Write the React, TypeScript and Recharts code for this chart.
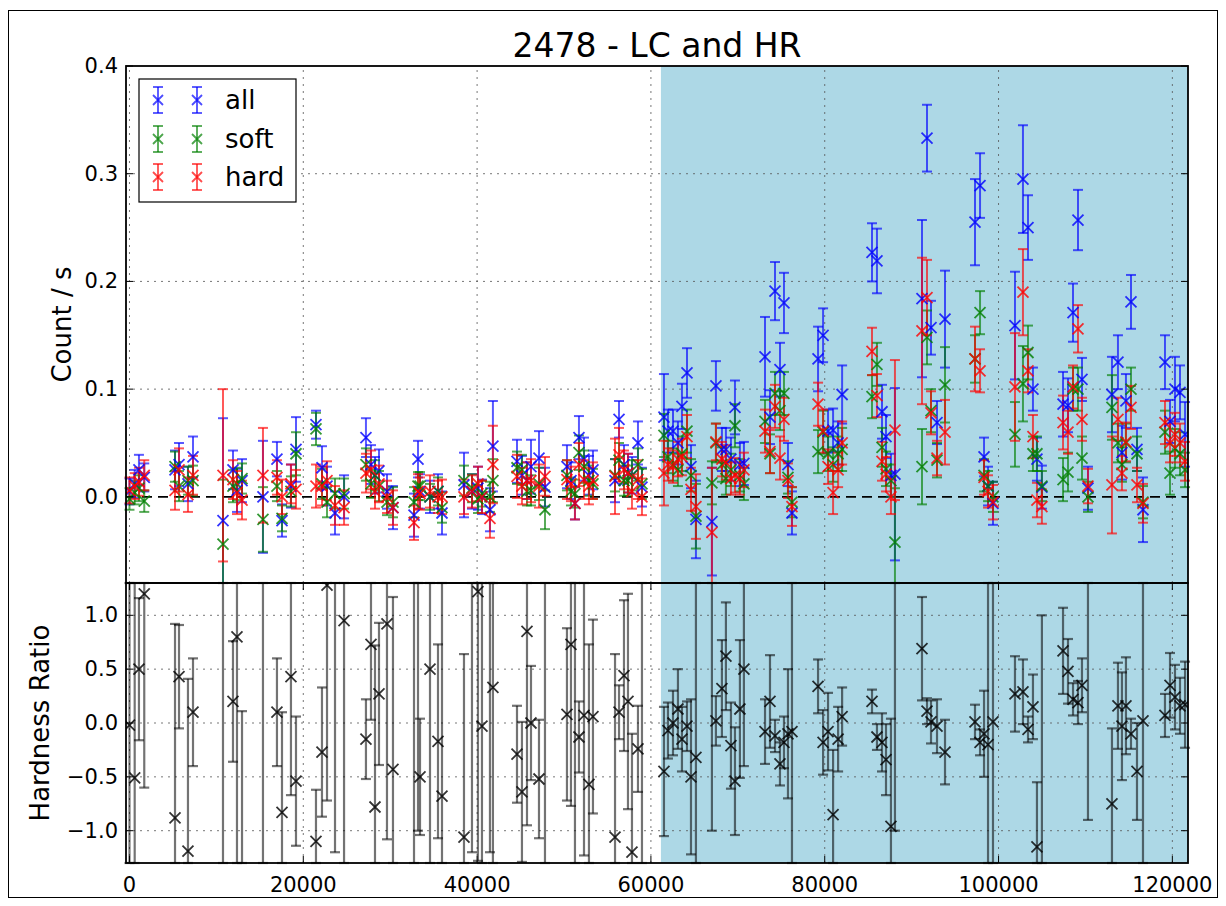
import { ScatterChart, Scatter, ErrorBar, XAxis, YAxis, ReferenceArea, ReferenceLine } from "recharts"

// bin start times (s)
const TIME = [
  0, 600, 1090, 1700,
  5240, 5700, 6730, 7310,
  10760, 11910, 12370, 12950,
  15360, 16970, 17550, 18580, 19160,
  21460, 22150, 22730, 23650, 24690,
  27210, 27790, 28250, 28710, 29630, 30320,
  32740, 33200, 33430, 34580, 35500, 35960,
  38490, 39410, 40100, 40560, 41480, 41820,
  44590, 45160, 45740, 46200, 47120, 47810,
  50340, 50800, 51260, 51720, 52300, 52870, 53330,
  55870, 56330, 56900, 57360, 57820, 58510, 58970,
  61500, 61960, 62540, 63110, 63570, 64150, 64610, 65180,
  67020, 67480, 68170, 68630, 69210, 69670, 70240, 70700,
  73130, 73700, 74280, 74850, 75310, 75770, 76230,
  79230, 79810, 80380, 80960, 81540, 82000,
  85440, 86010, 86590, 87050, 87620, 88080,
  91190, 91770, 92230, 92920, 93840,
  97290, 97870, 98330, 98790, 99360,
  101890, 102810, 103390, 103960, 104420, 104990,
  107420, 107990, 108570, 109140, 109600, 110290,
  113050, 113740, 114200, 114660, 115240, 115930, 116620,
  119150, 119730, 120300, 120880, 121460,
]

const ALL = [
  0.005, 0.012, 0.025, 0.018,
  0.025, 0.03, 0.012, 0.037,
  -0.022, 0.025, 0.006, 0.015,
  0.0, 0.035, -0.022, 0.01, 0.044,
  0.067, 0.027, 0.01, -0.015, 0.0,
  0.055, 0.03, 0.02, 0.024, 0.005, -0.01,
  -0.017, 0.035, 0.005, 0.0, 0.005, -0.015,
  0.011, 0.005, 0.008, 0.0, -0.012, 0.047,
  0.033, 0.02, 0.015, 0.028, 0.036, 0.009,
  0.028, 0.015, -0.006, 0.055, 0.035, 0.02, 0.025,
  0.015, 0.072, 0.03, 0.022, 0.02, 0.05, 0.009,
  0.074, 0.061, 0.061, 0.05, 0.084, 0.115, 0.028, -0.021,
  -0.023, 0.103, 0.044, 0.044, 0.035, 0.083, 0.03, 0.031,
  0.13, 0.074, 0.191, 0.118, 0.18, 0.03, -0.015,
  0.128, 0.15, 0.061, 0.062, 0.05, 0.095,
  0.227, 0.219, 0.079, 0.056, 0.02, 0.021,
  0.184, 0.333, 0.157, 0.069, 0.165,
  0.255, 0.289, 0.037, 0.01, -0.006,
  0.159, 0.295, 0.25, 0.1, 0.035, 0.009,
  0.086, 0.085, 0.171, 0.257, 0.109, 0.008,
  0.095, 0.125, 0.041, 0.089, 0.181, 0.044, -0.012,
  0.125, 0.07, 0.1, 0.097, 0.058,
]
const ALL_ERR = [
  0.012, 0.013, 0.014, 0.013,
  0.018, 0.02, 0.016, 0.019,
  0.095, 0.018, 0.02, 0.02,
  0.052, 0.016, 0.015, 0.02, 0.03,
  0.013, 0.02, 0.018, 0.02, 0.02,
  0.018, 0.018, 0.017, 0.02, 0.016, 0.02,
  0.02, 0.017, 0.016, 0.015, 0.016, 0.02,
  0.03, 0.016, 0.02, 0.016, 0.02, 0.042,
  0.02, 0.018, 0.017, 0.025, 0.025, 0.018,
  0.02, 0.017, 0.015, 0.02, 0.02, 0.018, 0.018,
  0.02, 0.017, 0.018, 0.018, 0.017, 0.02, 0.018,
  0.04, 0.02, 0.02, 0.02, 0.021, 0.023, 0.02, 0.036,
  0.05, 0.023, 0.02, 0.02, 0.02, 0.025, 0.02, 0.02,
  0.037, 0.025, 0.027, 0.025, 0.028, 0.02, 0.02,
  0.03, 0.025, 0.02, 0.02, 0.02, 0.027,
  0.027, 0.03, 0.025, 0.02, 0.02, 0.08,
  0.073, 0.031, 0.025, 0.02, 0.045,
  0.04, 0.03, 0.018, 0.018, 0.02,
  0.05, 0.05, 0.03, 0.02, 0.02, 0.02,
  0.03, 0.025, 0.027, 0.028, 0.02, 0.02,
  0.035, 0.025, 0.025, 0.025, 0.025, 0.02, 0.03,
  0.025, 0.02, 0.03, 0.025, 0.03,
]

const SOFT = [
  -0.002, 0.004, 0.008, -0.004,
  0.028, 0.01, 0.015, 0.015,
  -0.044, 0.01, 0.012, 0.017,
  -0.021, 0.01, -0.02, 0.005, 0.04,
  0.063, 0.012, -0.005, 0.003, 0.003,
  0.03, 0.012, 0.02, 0.01, -0.005, -0.005,
  -0.005, 0.01, 0.01, 0.0, 0.005, -0.01,
  0.015, 0.008, -0.002, 0.003, 0.0, 0.015,
  0.027, 0.025, 0.005, 0.006, 0.012, -0.012,
  0.02, 0.005, 0.003, 0.041, 0.028, 0.015, 0.012,
  0.02, 0.034, 0.015, 0.015, 0.02, 0.03, 0.012,
  0.057, 0.037, 0.03, 0.025, 0.04, 0.061, 0.02, -0.018,
  0.013, 0.05, 0.03, 0.017, 0.025, 0.066, 0.02, 0.012,
  0.07, 0.04, 0.096, 0.08, 0.096, 0.018, -0.005,
  0.042, 0.06, 0.04, 0.03, 0.04, 0.044,
  0.093, 0.123, 0.046, 0.026, 0.015, -0.042,
  0.028, 0.148, 0.08, 0.034, 0.104,
  0.128, 0.171, 0.02, 0.01, 0.0,
  0.058, 0.105, 0.134, 0.04, 0.04, 0.01,
  0.016, 0.023, 0.1, 0.1, 0.036, 0.0,
  0.083, 0.05, 0.03, 0.05, 0.1, 0.04, -0.005,
  0.06, 0.022, 0.045, 0.04, 0.025,
]
const SOFT_ERR = [
  0.01, 0.011, 0.012, 0.01,
  0.014, 0.014, 0.013, 0.014,
  0.06, 0.015, 0.015, 0.014,
  0.03, 0.014, 0.012, 0.014, 0.02,
  0.015, 0.014, 0.014, 0.014, 0.014,
  0.015, 0.013, 0.014, 0.014, 0.012, 0.014,
  0.014, 0.013, 0.013, 0.012, 0.013, 0.014,
  0.014, 0.013, 0.013, 0.012, 0.014, 0.02,
  0.015, 0.014, 0.013, 0.014, 0.015, 0.018,
  0.014, 0.013, 0.013, 0.016, 0.015, 0.014, 0.014,
  0.015, 0.016, 0.014, 0.014, 0.014, 0.015, 0.014,
  0.02, 0.015, 0.015, 0.015, 0.016, 0.02, 0.015, 0.03,
  0.02, 0.018, 0.016, 0.015, 0.015, 0.02, 0.015, 0.015,
  0.02, 0.018, 0.02, 0.018, 0.02, 0.015, 0.014,
  0.02, 0.02, 0.016, 0.016, 0.016, 0.02,
  0.02, 0.02, 0.018, 0.016, 0.015, 0.05,
  0.035, 0.025, 0.02, 0.016, 0.035,
  0.022, 0.02, 0.015, 0.014, 0.014,
  0.03, 0.035, 0.025, 0.016, 0.016, 0.014,
  0.02, 0.018, 0.02, 0.02, 0.02, 0.014,
  0.03, 0.018, 0.016, 0.018, 0.02, 0.016, 0.015,
  0.02, 0.02, 0.018, 0.02, 0.016,
]

const HARD = [
  0.006, 0.01, 0.014, 0.02,
  0.006, 0.025, 0.002, 0.02,
  0.02, 0.016, 0.004, -0.003,
  0.02, 0.018, 0.0, 0.012, 0.007,
  0.01, 0.01, 0.015, -0.008, -0.01,
  0.022, 0.025, 0.005, 0.012, 0.0, -0.01,
  -0.024, 0.005, 0.003, 0.005, 0.0, 0.0,
  0.0, 0.005, 0.012, 0.0, -0.02, 0.03,
  0.019, 0.01, 0.015, 0.015, 0.01, 0.019,
  0.016, 0.012, -0.006, 0.03, 0.016, 0.01, 0.015,
  0.019, 0.039, 0.025, 0.022, 0.005, 0.016, 0.0,
  0.022, 0.03, 0.028, 0.035, 0.037, 0.056, 0.007, -0.009,
  -0.033, 0.051, 0.035, 0.032, 0.017, 0.02, 0.017, 0.025,
  0.061, 0.042, 0.084, 0.036, 0.072, 0.015, -0.009,
  0.086, 0.061, 0.028, 0.004, 0.025, 0.05,
  0.135, 0.094, 0.033, 0.021, 0.0, 0.062,
  0.154, 0.185, 0.078, 0.036, 0.06,
  0.128, 0.117, 0.018, 0.005, -0.005,
  0.102, 0.19, 0.117, 0.056, -0.003, -0.009,
  0.069, 0.06, 0.102, 0.156, 0.072, 0.01,
  0.011, 0.072, 0.022, 0.051, 0.083, 0.011, -0.006,
  0.069, 0.05, 0.058, 0.05, 0.033,
]
const HARD_ERR = [
  0.012, 0.012, 0.013, 0.014,
  0.018, 0.02, 0.016, 0.018,
  0.08, 0.018, 0.02, 0.018,
  0.044, 0.016, 0.016, 0.018, 0.018,
  0.02, 0.018, 0.018, 0.018, 0.016,
  0.018, 0.018, 0.016, 0.017, 0.015, 0.016,
  0.016, 0.016, 0.015, 0.015, 0.015, 0.016,
  0.016, 0.015, 0.016, 0.015, 0.018, 0.036,
  0.02, 0.017, 0.017, 0.02, 0.02, 0.018,
  0.018, 0.016, 0.015, 0.02, 0.018, 0.017, 0.017,
  0.035, 0.025, 0.018, 0.018, 0.016, 0.018, 0.017,
  0.03, 0.015, 0.015, 0.016, 0.017, 0.02, 0.02, 0.03,
  0.06, 0.017, 0.016, 0.016, 0.015, 0.016, 0.015, 0.016,
  0.02, 0.02, 0.02, 0.02, 0.02, 0.016, 0.018,
  0.02, 0.02, 0.016, 0.02, 0.016, 0.02,
  0.022, 0.02, 0.018, 0.016, 0.016, 0.065,
  0.068, 0.035, 0.02, 0.016, 0.03,
  0.03, 0.02, 0.016, 0.015, 0.016,
  0.05, 0.04, 0.02, 0.02, 0.016, 0.016,
  0.025, 0.02, 0.02, 0.022, 0.02, 0.016,
  0.045, 0.02, 0.016, 0.018, 0.02, 0.016, 0.018,
  0.02, 0.018, 0.02, 0.018, 0.018,
]

// hardness ratio (H - S) / (H + S)
const HR = [
  -0.02, -0.51, 0.5, 1.2,
  -0.88, 0.43, -1.19, 0.1,
  1.6, 0.2, 0.8, -1.5,
  1.5, 0.1, -0.83, 0.43, -0.54,
  -1.1, -0.27, 1.28, 1.8, 0.95,
  -0.15, 0.73, -0.78, 0.27, 0.92, -0.43,
  1.6, 2.0, -0.5, 0.5, -0.17, -0.68,
  -1.06, 1.8, 1.22, -0.03, 1.8, 0.33,
  -0.29, -0.64, 0.85, 0.0, -0.52, 1.7,
  0.08, 0.73, 1.6, -0.13, 0.07, -0.57, 0.06,
  -1.06, 0.1, 0.44, 0.2, -1.2, -0.24, 1.6,
  -0.45, -0.07, 0.0, 0.13, -0.15, -0.03, -0.5, -0.32,
  2.0, 0.02, 0.32, 0.62, -0.21, -0.54, 0.13, 0.5,
  -0.08, 0.2, -0.12, -0.38, -0.18, -0.1, -0.08,
  0.34, -0.18, -0.08, -0.85, -0.15, 0.06,
  0.2, -0.13, -0.18, -0.34, -0.96, 2.0,
  0.69, 0.11, 0.01, -0.03, -0.27,
  0.01, -0.18, -0.1, -0.2, 0.01,
  0.27, 0.29, -0.06, 0.15, -1.15, -2.0,
  0.67, 0.48, 0.22, 0.19, 0.35, 1.5,
  -0.75, 0.16, -0.03, 0.16, -0.1, -0.45, 0.02,
  0.07, 0.35, 0.24, 0.16, 0.17,
]
const HR_ERR = [
  2.5, 2.2, 0.66, 1.8,
  1.8, 0.48, 1.6, 0.5,
  3, 0.56, 3, 1.61,
  3, 0.5, 0.93, 1.1, 0.6,
  0.48, 0.6, 2, 3, 2.5,
  0.37, 0.7, 1.5, 0.66, 2, 1.6,
  3, 3, 0.54, 3, 0.9, 2,
  1.7, 3, 2.5, 2.5, 3, 1.8,
  0.45, 0.65, 1.8, 0.53, 0.55, 3,
  0.8, 1.5, 3, 0.33, 1.3, 1.3, 0.9,
  1.7, 0.25, 0.7, 1.0, 1.1, 0.4, 3,
  0.6, 0.26, 0.3, 0.37, 0.3, 0.23, 0.72, 3,
  3, 0.23, 0.45, 0.5, 0.4, 0.5, 0.64, 0.9,
  0.3, 0.43, 0.15, 0.2, 0.24, 0.6, 3,
  0.25, 0.3, 0.36, 0.6, 0.3, 0.27,
  0.11, 0.12, 0.27, 0.33, 1.0, 3,
  0.48, 0.12, 0.2, 0.25, 0.3,
  0.16, 0.12, 0.4, 1.5, 2.5,
  0.35, 0.3, 0.12, 0.3, 0.6, 3,
  0.4, 0.3, 0.15, 0.2, 0.25, 2.4,
  0.7, 0.4, 0.5, 0.45, 0.14, 0.45, 2.2,
  0.2, 0.3, 0.3, 0.26, 0.4,
]

const X_TICKS = [0, 20000, 40000, 60000, 80000, 100000, 120000]
const LC_TICKS = [0, 0.1, 0.2, 0.3, 0.4]
const HR_TICKS = [-1, -0.5, 0, 0.5, 1]
const FLARE_START = 61150

const X_DOMAIN: [number, number] = [-400, 121800]
const LC_DOMAIN: [number, number] = [-0.08, 0.4]
const HR_DOMAIN: [number, number] = [-1.3, 1.3]

// page layout (px)
const W = 1226
const H = 906
const LEFT = 126
const RIGHT = 1188
const LC_TOP = 66
const SPLIT = 583
const HR_BOTTOM = 863
const TICK_LEN = 7
const FONT = "DejaVu Sans, sans-serif"
const SHADE = "#add8e6"

const SERIES = [
  { name: "all", color: "#0000ff", vals: ALL, errs: ALL_ERR },
  { name: "soft", color: "#008000", vals: SOFT, errs: SOFT_ERR },
  { name: "hard", color: "#ff0000", vals: HARD, errs: HARD_ERR },
]

// ErrorBar ignores the axis clip, so bars are cut at the panel edges here
// and handed over as [below, above] lengths
const points = (vals: number[], errs: number[], [lo, hi]: [number, number]) =>
  TIME.map((x, i) => {
    const y = vals[i]
    let a = Math.max(y - errs[i], lo)
    let b = Math.min(y + errs[i], hi)
    if (a > b) a = b = y > hi ? hi : lo
    return { x, y, err: [y - a, b - y] }
  })

const hrPoints = points(HR, HR_ERR, HR_DOMAIN)

const fmtMinus = (v: number, digits: number) => {
  const s = Math.abs(v).toFixed(digits)
  return v < 0 ? "\u2212" + s : s
}

function cross(color: string, opacity: number) {
  return (p: any) => {
    const { cx, cy } = p
    if (cx == null || cy == null) return <g />
    const s = 5.5
    return (
      <path
        d={`M${cx - s},${cy - s}L${cx + s},${cy + s}M${cx - s},${cy + s}L${cx + s},${cy - s}`}
        stroke={color}
        strokeOpacity={opacity}
        strokeWidth={1.8}
        fill="none"
      />
    )
  }
}

const gridStyle = { stroke: "#555", strokeWidth: 1, strokeDasharray: "2 5", strokeOpacity: 0.8 }

// x ticks point inward on both the top and bottom edge of a panel
const xTickInner = (top: number, bottom: number, withLabel: boolean) => (p: any) => (
  <g>
    <line x1={p.x} x2={p.x} y1={top} y2={top + TICK_LEN} stroke="#000" />
    <line x1={p.x} x2={p.x} y1={bottom - TICK_LEN} y2={bottom} stroke="#000" />
    {withLabel && (
      <text x={p.x} y={885} textAnchor="middle" dominantBaseline="central" fontFamily={FONT} fontSize={21} fill="#000">
        {p.payload.value}
      </text>
    )}
  </g>
)

const yTickInner = (p: any) => (
  <g>
    <line x1={LEFT} x2={LEFT + TICK_LEN} y1={p.y} y2={p.y} stroke="#000" />
    <line x1={RIGHT - TICK_LEN} x2={RIGHT} y1={p.y} y2={p.y} stroke="#000" />
    <text x={118} y={p.y} textAnchor="end" dominantBaseline="central" fontFamily={FONT} fontSize={21} fill="#000">
      {fmtMinus(p.payload.value, 1)}
    </text>
  </g>
)

function LegendBox() {
  const rows = [100, 139, 177]
  return (
    <g>
      <rect x={139} y={79} width={157} height={123} fill="#fff" stroke="#000" strokeWidth={1.2} />
      {SERIES.map((s, i) => (
        <g key={s.name}>
          {[158, 197].map((mx) => (
            <g key={mx} stroke={s.color} strokeOpacity={0.7} strokeWidth={1.8} fill="none">
              <line x1={mx} x2={mx} y1={rows[i] - 13} y2={rows[i] + 13} />
              <line x1={mx - 5} x2={mx + 5} y1={rows[i] - 13} y2={rows[i] - 13} />
              <line x1={mx - 5} x2={mx + 5} y1={rows[i] + 13} y2={rows[i] + 13} />
              <path d={`M${mx - 5},${rows[i] - 5}L${mx + 5},${rows[i] + 5}M${mx - 5},${rows[i] + 5}L${mx + 5},${rows[i] - 5}`} />
            </g>
          ))}
          <text x={225} y={rows[i]} dominantBaseline="central" fontFamily={FONT} fontSize={26} fill="#000">
            {s.name}
          </text>
        </g>
      ))}
    </g>
  )
}

export default function App() {
  return (
    <div style={{ position: "absolute", left: 0, top: 0, width: W, height: H, background: "#fff", overflow: "hidden" }}>
      {/* light curve */}
      <div style={{ position: "absolute", left: 0, top: 0 }}>
        <ScatterChart width={W} height={H} margin={{ top: LC_TOP, right: W - RIGHT, bottom: H - SPLIT, left: 0 }}>
          <XAxis
            type="number"
            dataKey="x"
            domain={X_DOMAIN}
            allowDataOverflow
            ticks={X_TICKS}
            interval={0}
            height={0}
            axisLine={false}
            tickLine={false}
            tick={xTickInner(LC_TOP, SPLIT, false)}
          />
          <YAxis
            type="number"
            dataKey="y"
            domain={LC_DOMAIN}
            allowDataOverflow
            ticks={LC_TICKS}
            interval={0}
            width={LEFT}
            axisLine={false}
            tickLine={false}
            tick={yTickInner}
          />
          <ReferenceArea x1={FLARE_START} x2={X_DOMAIN[1]} fill={SHADE} fillOpacity={1} stroke="none" ifOverflow="hidden" />
          {X_TICKS.map((v) => (
            <ReferenceLine key={`lx${v}`} x={v} {...gridStyle} />
          ))}
          {[0.1, 0.2, 0.3].map((v) => (
            <ReferenceLine key={`ly${v}`} y={v} {...gridStyle} />
          ))}
          <ReferenceLine y={0} stroke="#000" strokeWidth={1.8} strokeDasharray="10 6" />
          {SERIES.map((s) => (
            <Scatter
              key={s.name}
              name={s.name}
              data={points(s.vals, s.errs, LC_DOMAIN)}
              isAnimationActive={false}
              shape={cross(s.color, 0.8)}
            >
              <ErrorBar dataKey="err" direction="y" width={5} stroke={s.color} strokeWidth={2} strokeOpacity={0.65} isAnimationActive={false} />
            </Scatter>
          ))}
        </ScatterChart>
      </div>

      {/* hardness ratio */}
      <div style={{ position: "absolute", left: 0, top: 0 }}>
        <ScatterChart width={W} height={H} margin={{ top: SPLIT, right: W - RIGHT, bottom: 3, left: 0 }}>
          <XAxis
            type="number"
            dataKey="x"
            domain={X_DOMAIN}
            allowDataOverflow
            ticks={X_TICKS}
            interval={0}
            height={H - 3 - HR_BOTTOM}
            axisLine={false}
            tickLine={false}
            tick={xTickInner(SPLIT, HR_BOTTOM, true)}
          />
          <YAxis
            type="number"
            dataKey="y"
            domain={HR_DOMAIN}
            allowDataOverflow
            ticks={HR_TICKS}
            interval={0}
            width={LEFT}
            axisLine={false}
            tickLine={false}
            tick={yTickInner}
          />
          <ReferenceArea x1={FLARE_START} x2={X_DOMAIN[1]} fill={SHADE} fillOpacity={1} stroke="none" ifOverflow="hidden" />
          {X_TICKS.map((v) => (
            <ReferenceLine key={`hx${v}`} x={v} {...gridStyle} />
          ))}
          {HR_TICKS.map((v) => (
            <ReferenceLine key={`hy${v}`} y={v} {...gridStyle} />
          ))}
          <Scatter name="HR" data={hrPoints} isAnimationActive={false} shape={cross("#000", 0.8)}>
            <ErrorBar dataKey="err" direction="y" width={5} stroke="#000" strokeWidth={2.2} strokeOpacity={0.55} isAnimationActive={false} />
          </Scatter>
        </ScatterChart>
      </div>

      {/* frames, title, labels and legend */}
      <svg width={W} height={H} style={{ position: "absolute", left: 0, top: 0, pointerEvents: "none" }}>
        <rect x={8.5} y={10.5} width={1209} height={887} fill="none" stroke="#000" strokeWidth={1} />
        <rect x={LEFT} y={LC_TOP} width={RIGHT - LEFT} height={SPLIT - LC_TOP} fill="none" stroke="#000" strokeWidth={1.8} />
        <rect x={LEFT} y={SPLIT} width={RIGHT - LEFT} height={HR_BOTTOM - SPLIT} fill="none" stroke="#000" strokeWidth={1.8} />
        <text x={(LEFT + RIGHT) / 2} y={45} textAnchor="middle" dominantBaseline="central" fontFamily={FONT} fontSize={33} fill="#000">
          2478 - LC and HR
        </text>
        <text
          transform={`translate(62 ${(LC_TOP + SPLIT) / 2}) rotate(-90)`}
          textAnchor="middle"
          dominantBaseline="central"
          fontFamily={FONT}
          fontSize={26}
          fill="#000"
        >
          Count / s
        </text>
        <text
          transform={`translate(40 ${(SPLIT + HR_BOTTOM) / 2}) rotate(-90)`}
          textAnchor="middle"
          dominantBaseline="central"
          fontFamily={FONT}
          fontSize={26}
          fill="#000"
        >
          Hardness Ratio
        </text>
        <LegendBox />
      </svg>
    </div>
  )
}
